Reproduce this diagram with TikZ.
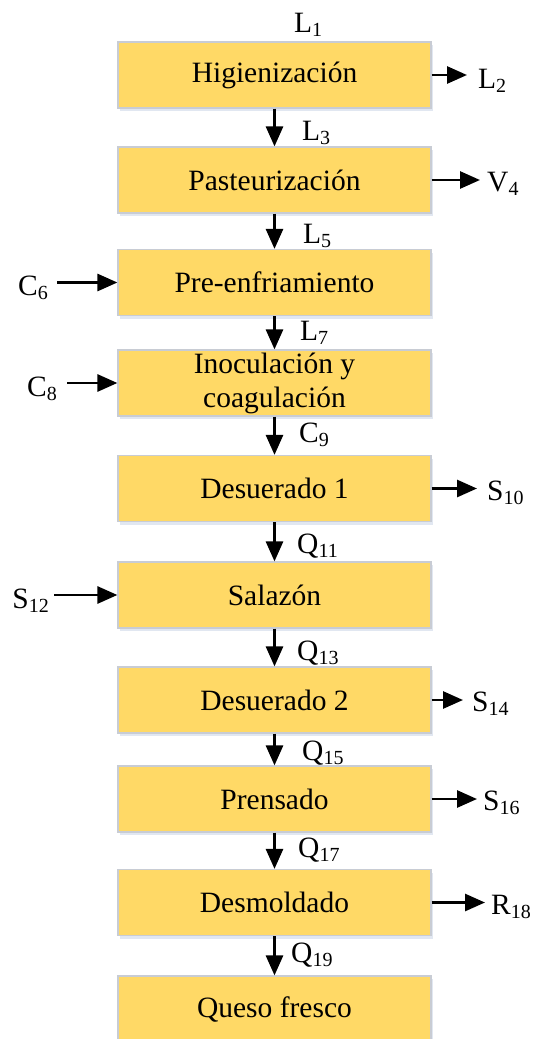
\documentclass[tikz,border=0pt]{standalone}
\usepackage{fontspec}
\setmainfont{Liberation Serif}
\usetikzlibrary{arrows.meta,shadows}
\definecolor{boxfill}{RGB}{255,217,102}
\definecolor{boxline}{RGB}{200,204,212}
\definecolor{shadowc}{RGB}{170,185,215}
\newcommand\sbs[1]{\raisebox{-4pt}{\fontsize{20}{20}\selectfont #1}}
\begin{document}
\begin{tikzpicture}[x=1pt,y=-1pt,
  proc/.style={draw=boxline, line width=1.2pt, fill=boxfill,
    minimum width=313pt, minimum height=66pt, inner sep=0pt,
    font=\fontsize{29.5}{34}\selectfont, align=center,
    drop shadow={shadow xshift=2pt, shadow yshift=-3pt, opacity=0.35, fill=shadowc}},
  lbl/.style={font=\fontsize{29.5}{35}\selectfont, inner sep=0pt},
  flow/.style={line width=2.8pt, -{Triangle[length=20pt,width=17pt]}}
]
\useasboundingbox (0,0) rectangle (534,1039);
\clip (0,0) rectangle (534,1039);

% process boxes
\node[proc] (b1) at (274.5,75) {Higienización};
\node[proc] (b2) at (274.5,180) {Pasteurización};
\node[proc] (b3) at (274.5,282.5) {Pre-enfriamiento};
\node[proc] (b4) at (274.5,383) {Inoculación y\\coagulación};
\node[proc] (b5) at (274.5,488.5) {Desuerado 1};
\node[proc] (b6) at (274.5,595) {Salazón};
\node[proc] (b7) at (274.5,700) {Desuerado 2};
\node[proc] (b8) at (274.5,799) {Prensado};
\node[proc] (b9) at (274.5,902.5) {Desmoldado};
\node[proc] (b10) at (274.5,1009) {Queso fresco};

% vertical flows
\draw[flow] (b1) -- (b2);
\draw[flow] (b2) -- (b3);
\draw[flow] (b3) -- (b4);
\draw[flow] (b4) -- (b5);
\draw[flow] (b5) -- (b6);
\draw[flow] (b6) -- (b7);
\draw[flow] (b7) -- (b8);
\draw[flow] (b8) -- (b9);
\draw[flow] (b9) -- (b10);

% labels on vertical flows
\node[lbl, anchor=base west] (l1) at (294,32) {L\sbs{1}};
\node[lbl, anchor=base west] (l3) at (302,140) {L\sbs{3}};
\node[lbl, anchor=base west] (l5) at (303,243) {L\sbs{5}};
\node[lbl, anchor=base west] (l7) at (300,340) {L\sbs{7}};
\node[lbl, anchor=base west] (c9) at (299,442) {C\sbs{9}};
\node[lbl, anchor=base west] (q11) at (297,553) {Q\sbs{11}};
\node[lbl, anchor=base west] (q13) at (297,660) {Q\sbs{13}};
\node[lbl, anchor=base west] (q15) at (302,760) {Q\sbs{15}};
\node[lbl, anchor=base west] (q17) at (298,857) {Q\sbs{17}};
\node[lbl, anchor=base west] (q19) at (291,962) {Q\sbs{19}};

% outgoing flows (right)
\coordinate (e1) at (467,75);
\coordinate (e2) at (480,180);
\coordinate (e5) at (477,488.5);
\coordinate (e7) at (463,700);
\coordinate (e8) at (477,799);
\coordinate (e9) at (485,902.5);
\draw[flow] (b1.east) -- (e1);
\draw[flow] (b2.east) -- (e2);
\draw[flow] (b5.east) -- (e5);
\draw[flow] (b7.east) -- (e7);
\draw[flow] (b8.east) -- (e8);
\draw[flow] (b9.east) -- (e9);
\node[lbl, anchor=base west] (l2) at (478,88) {L\sbs{2}};
\node[lbl, anchor=base west] (v4) at (487,191) {V\sbs{4}};
\node[lbl, anchor=base west] (s10) at (487,500) {S\sbs{10}};
\node[lbl, anchor=base west] (s14) at (472,711) {S\sbs{14}};
\node[lbl, anchor=base west] (s16) at (483,810) {S\sbs{16}};
\node[lbl, anchor=base west] (r18) at (491,914) {R\sbs{18}};

% incoming flows (left)
\coordinate (w3) at (57,282.5);
\coordinate (w4) at (67,383);
\coordinate (w6) at (54,595);
\draw[flow] (w3) -- (b3.west);
\draw[flow] (w4) -- (b4.west);
\draw[flow] (w6) -- (b6.west);
\node[lbl, anchor=base east] (c6) at (48,295) {C\sbs{6}};
\node[lbl, anchor=base east] (c8) at (57,396) {C\sbs{8}};
\node[lbl, anchor=base east] (s12) at (49,608) {S\sbs{12}};
\end{tikzpicture}
\end{document}
